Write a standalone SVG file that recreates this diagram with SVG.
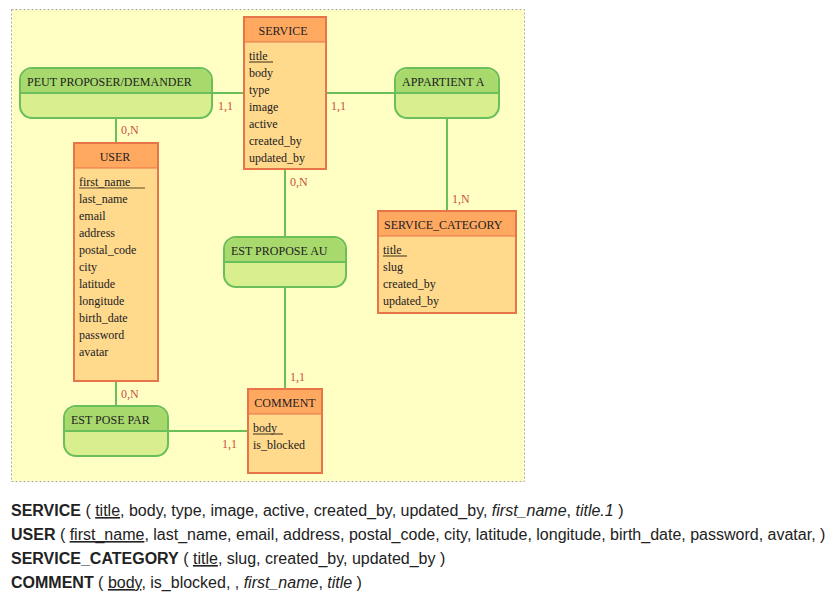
<svg xmlns="http://www.w3.org/2000/svg" width="838" height="599" viewBox="0 0 838 599">
<style>
.ent{fill:#ffd98c;stroke:#e8744a;stroke-width:2}
.enth{fill:#ffa860;stroke:none}
.rel{fill:#d9ee8e;stroke:#6bbf5a;stroke-width:2}
.relh{fill:#a8d96c}
.t{font-family:"Liberation Serif",serif;font-size:12px;fill:#222}
.c{font-family:"Liberation Serif",serif;font-size:12px;fill:#c8503c}
.ln{stroke:#6bbf5a;stroke-width:2;fill:none}
.ul{stroke:#5a4a2a;stroke-width:1.2}
.u{text-decoration:underline}
.b{font-family:"Liberation Sans",sans-serif;font-size:16px;fill:#222}
</style>
<rect x="11.5" y="9.5" width="513" height="472" fill="#ffffc4" stroke="#aaa" stroke-dasharray="2,2"/>
<g id="connectors">
<line class="ln" x1="212" y1="93" x2="244" y2="93"/>
<line class="ln" x1="116" y1="118" x2="116" y2="143"/>
<line class="ln" x1="326" y1="93" x2="395" y2="93"/>
<line class="ln" x1="447" y1="118" x2="447" y2="211"/>
<line class="ln" x1="285" y1="169" x2="285" y2="237"/>
<line class="ln" x1="285" y1="287" x2="285" y2="389"/>
<line class="ln" x1="116" y1="381" x2="116" y2="406"/>
<line class="ln" x1="168" y1="431" x2="248" y2="431"/>
<text class="c" x="218" y="110">1,1</text>
<text class="c" x="121" y="134">0,N</text>
<text class="c" x="331" y="110">1,1</text>
<text class="c" x="452" y="203">1,N</text>
<text class="c" x="290" y="186">0,N</text>
<text class="c" x="290" y="381">1,1</text>
<text class="c" x="121" y="398">0,N</text>
<text class="c" x="222" y="448">1,1</text>
</g>
<g id="peut">
<rect class="rel" x="20" y="68" width="192" height="50" rx="12"/>
<path class="relh" d="M33,69 H199 A12,12 0 0 1 211,81 V92 H21 V81 A12,12 0 0 1 33,69 Z"/>
<line class="ln" x1="21" y1="93" x2="211" y2="93"/>
<text class="t" x="27" y="86">PEUT PROPOSER/DEMANDER</text>
</g>
<g id="appartient">
<rect class="rel" x="395" y="68" width="104" height="50" rx="12"/>
<path class="relh" d="M408,69 H486 A12,12 0 0 1 498,81 V92 H396 V81 A12,12 0 0 1 408,69 Z"/>
<line class="ln" x1="396" y1="93" x2="498" y2="93"/>
<text class="t" x="402" y="86">APPARTIENT A</text>
</g>
<g id="estproposeau">
<rect class="rel" x="224" y="237" width="122" height="50" rx="12"/>
<path class="relh" d="M237,238 H333 A12,12 0 0 1 345,250 V261 H225 V250 A12,12 0 0 1 237,238 Z"/>
<line class="ln" x1="225" y1="262" x2="345" y2="262"/>
<text class="t" x="231" y="255">EST PROPOSE AU</text>
</g>
<g id="estposepar">
<rect class="rel" x="64" y="406" width="104" height="50" rx="12"/>
<path class="relh" d="M77,407 H155 A12,12 0 0 1 167,419 V430 H65 V419 A12,12 0 0 1 77,407 Z"/>
<line class="ln" x1="65" y1="431" x2="167" y2="431"/>
<text class="t" x="71" y="424">EST POSE PAR</text>
</g>
<g id="service">
<rect class="ent" x="244" y="17" width="82" height="152"/>
<rect class="enth" x="245" y="18" width="80" height="24"/>
<line stroke="#e8744a" stroke-width="1" x1="245" y1="42" x2="325" y2="42"/>
<text class="t" x="283" y="35" text-anchor="middle">SERVICE</text>
<text class="t" x="249" y="60">title</text>
<line class="ul" x1="249" y1="62" x2="273" y2="62"/>
<text class="t" x="249" y="77">body</text>
<text class="t" x="249" y="94">type</text>
<text class="t" x="249" y="111">image</text>
<text class="t" x="249" y="128">active</text>
<text class="t" x="249" y="145">created_by</text>
<text class="t" x="249" y="162">updated_by</text>
</g>
<g id="user">
<rect class="ent" x="74" y="143" width="84" height="238"/>
<rect class="enth" x="75" y="144" width="82" height="24"/>
<line stroke="#e8744a" stroke-width="1" x1="75" y1="168" x2="157" y2="168"/>
<text class="t" x="115" y="161" text-anchor="middle">USER</text>
<text class="t" x="79" y="186">first_name</text>
<line class="ul" x1="79" y1="188" x2="145" y2="188"/>
<text class="t" x="79" y="203">last_name</text>
<text class="t" x="79" y="220">email</text>
<text class="t" x="79" y="237">address</text>
<text class="t" x="79" y="254">postal_code</text>
<text class="t" x="79" y="271">city</text>
<text class="t" x="79" y="288">latitude</text>
<text class="t" x="79" y="305">longitude</text>
<text class="t" x="79" y="322">birth_date</text>
<text class="t" x="79" y="339">password</text>
<text class="t" x="79" y="356">avatar</text>
</g>
<g id="service_category">
<rect class="ent" x="378" y="211" width="138" height="102"/>
<rect class="enth" x="379" y="212" width="136" height="24"/>
<line stroke="#e8744a" stroke-width="1" x1="379" y1="236" x2="515" y2="236"/>
<text class="t" x="384" y="229">SERVICE_CATEGORY</text>
<text class="t" x="383" y="254">title</text>
<line class="ul" x1="383" y1="256" x2="407" y2="256"/>
<text class="t" x="383" y="271">slug</text>
<text class="t" x="383" y="288">created_by</text>
<text class="t" x="383" y="305">updated_by</text>
</g>
<g id="comment">
<rect class="ent" x="248" y="389" width="74" height="84"/>
<rect class="enth" x="249" y="390" width="72" height="24"/>
<line stroke="#e8744a" stroke-width="1" x1="249" y1="414" x2="321" y2="414"/>
<text class="t" x="285" y="407" text-anchor="middle">COMMENT</text>
<text class="t" x="253" y="432">body</text>
<line class="ul" x1="253" y1="434" x2="283" y2="434"/>
<text class="t" x="253" y="449">is_blocked</text>
</g>
<g id="schema">
<text class="b" x="11" y="516"><tspan font-weight="bold">SERVICE</tspan> ( <tspan class="u">title</tspan>, body, type, image, active, created_by, updated_by, <tspan font-style="italic">first_name</tspan>, <tspan font-style="italic">title.1</tspan> )</text>
<text class="b" x="11" y="540"><tspan font-weight="bold">USER</tspan> ( <tspan class="u">first_name</tspan>, last_name, email, address, postal_code, city, latitude, longitude, birth_date, password, avatar, )</text>
<text class="b" x="11" y="564"><tspan font-weight="bold">SERVICE_CATEGORY</tspan> ( <tspan class="u">title</tspan>, slug, created_by, updated_by )</text>
<text class="b" x="11" y="588"><tspan font-weight="bold">COMMENT</tspan> ( <tspan class="u">body</tspan>, is_blocked, , <tspan font-style="italic">first_name</tspan>, <tspan font-style="italic">title</tspan> )</text>
</g>
</svg>
